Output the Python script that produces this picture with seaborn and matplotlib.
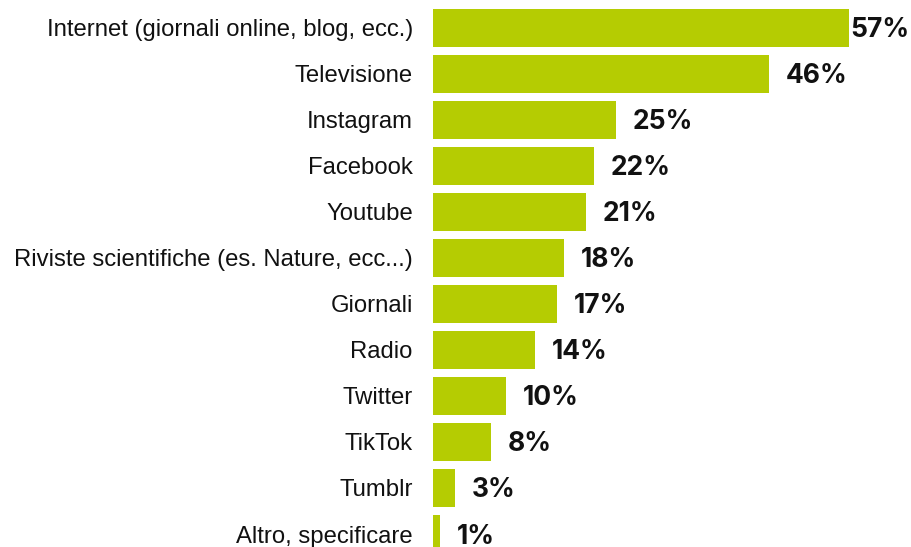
import matplotlib
matplotlib.use("Agg")
import matplotlib.pyplot as plt
import seaborn as sns
import pandas as pd

categories = [
    "Internet (giornali online, blog, ecc.)",
    "Televisione",
    "Instagram",
    "Facebook",
    "Youtube",
    "Riviste scientifiche (es. Nature, ecc...)",
    "Giornali",
    "Radio",
    "Twitter",
    "TikTok",
    "Tumblr",
    "Altro, specificare",
]
values = [57, 46, 25, 22, 21, 18, 17, 14, 10, 8, 3, 1]

df = pd.DataFrame({"fonte": categories, "quota": values})

sns.set_theme(style="white")
plt.rcParams["font.family"] = ["Liberation Sans", "DejaVu Sans"]

W, H, DPI = 912, 547, 100
fig = plt.figure(figsize=(W / DPI, H / DPI), dpi=DPI)
ax_left = 433
px_per_unit_x = 7.30
row_px = 46
first_center = 28
ax = fig.add_axes([ax_left / W, 0, (W - ax_left) / W, 1])

sns.barplot(data=df, y="fonte", x="quota", orient="h", color="#B5CC02",
            saturation=1, width=0.83, linewidth=0, ax=ax)

ax.set_xlim(0, (W - ax_left) / px_per_unit_x)
ax.set_ylim((H - first_center) / row_px, -first_center / row_px)
ax.set_xlabel("")
ax.set_ylabel("")
ax.set_xticks([])
for s in ax.spines.values():
    s.set_visible(False)
ax.tick_params(axis="y", length=0, pad=14.5, labelsize=17.2, labelcolor="#111111")
for lab in ax.get_yticklabels():
    lab.set_verticalalignment("center_baseline")

val_size = 19
cap_shift = -0.36 * val_size
labels = []
for i, v in enumerate(values):
    t = ax.annotate(f"{v}%", xy=(v, i), xytext=(12, cap_shift), textcoords="offset points",
                    ha="left", va="baseline", fontsize=val_size, fontweight="bold",
                    fontstyle="normal", family=["Inter", "DejaVu Sans"], color="#111111")
    labels.append(t)

# keep value labels inside the canvas
fig.canvas.draw()
renderer = fig.canvas.get_renderer()
for t in labels:
    bb = t.get_window_extent(renderer)
    if bb.x1 > W - 3:
        t.set_horizontalalignment("right")
        t.xy = (ax.get_xlim()[1], t.xy[1])
        t.xyann = (-3 * 72 / DPI, cap_shift)

fig.savefig("out.png", dpi=DPI)
